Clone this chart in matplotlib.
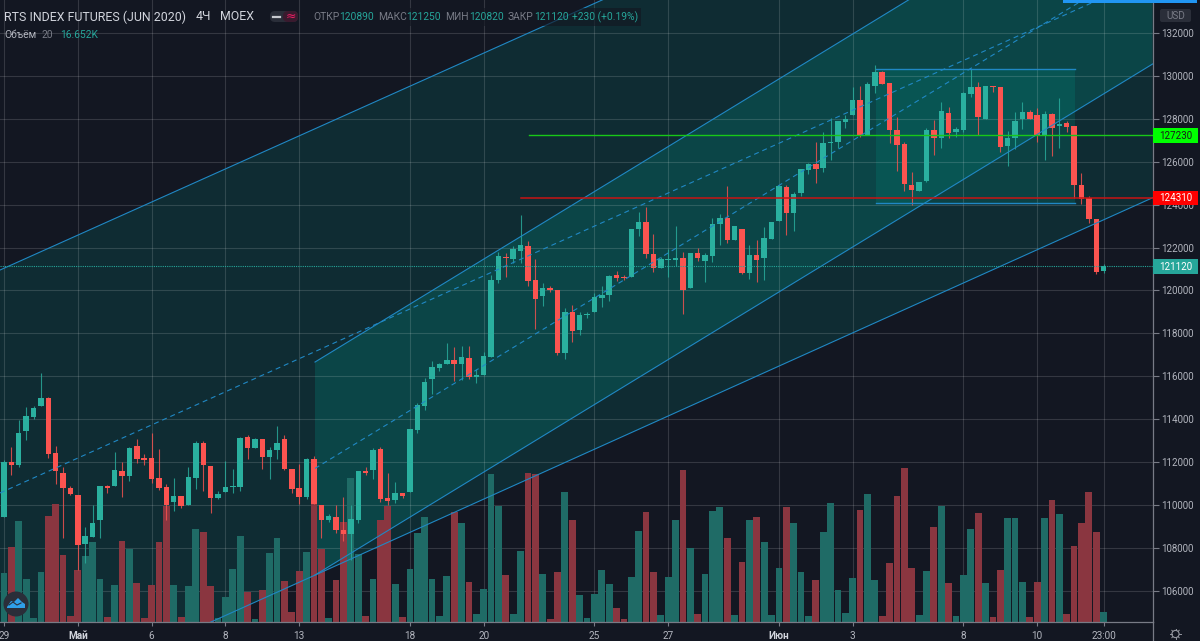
import numpy as np
import matplotlib
matplotlib.use("Agg")
import matplotlib.pyplot as plt
from matplotlib.patches import Circle, FancyBboxPatch, Polygon, Rectangle

plt.rcParams['font.family'] = ['Roboto', 'Noto Sans', 'DejaVu Sans']

opens = [109440,111980,111860,113460,114110,114630,114980,112400,111490,110800,
         110480,108160,108520,109300,110880,110880,111580,111350,112760,112190,
         112190,111250,110830,110150,110420,110000,111250,112870,111830,110310,
         110600,110820,110850,113160,112670,113060,112230,112560,113090,111690,
         110800,110370,112120,110010,109280,109450,108840,108630,109280,111580,
         111640,112590,110310,110230,110570,110600,113490,114610,115890,116400,
         116550,116740,116550,116830,115960,116070,116910,120480,121540,121480,
         121840,122070,120470,119740,120110,120020,117100,118990,118150,118850,
         118990,119630,119790,120720,120620,120640,122860,123190,121700,121060,
         121400,121420,121510,120110,121740,121390,121600,123100,123380,122350,
         122850,120810,121670,121500,122400,123220,124820,123620,124520,125630,
         125910,125710,126870,126900,127840,128180,128860,127260,129530,130200,
         129650,127480,126820,124900,124650,125080,127480,127120,128270,127370,
         127480,129170,129470,127990,129540,129470,126720,127090,127990,128320,
         128180,127240,128210,127660,127820,127660,124930,124290,123330,120890]
highs = [112090,112680,113960,114580,114610,116130,115050,112760,111780,110880,
         110480,108980,110000,110880,110930,112480,112020,112720,113060,112370,
         113340,112590,110970,111240,110420,111780,112990,112980,111830,110650,
         112050,111690,113180,113260,113100,113060,112680,113680,113260,111690,
         111910,112200,112280,110010,109580,110010,110350,110000,111580,111750,
         112640,112680,111470,111080,110570,113540,114740,115900,116720,116600,
         117560,117380,117410,117410,116320,117140,120720,121810,121760,122090,
         123530,122320,121450,120330,120200,120020,119160,119300,119010,119010,
         119860,120200,120720,120920,120720,122850,123670,123900,122610,121570,
         121920,123000,121810,121740,121960,121760,123360,123560,124870,123000,
         122850,122120,122350,122970,123200,124910,124910,124600,125660,125960,
         126920,127400,128020,127900,128180,129470,129530,129730,130510,130240,
         129650,128100,126920,125520,125040,127560,127940,128800,128560,127600,
         129240,130310,129720,129540,129540,129470,127430,128320,128800,128410,
         128520,128380,128280,128980,127910,127660,125490,124420,123330,121250]
lows = [109440,111390,111780,113020,114020,114630,112200,110970,108440,110460,
        106960,107280,108520,108440,110540,110880,110350,111130,111940,111840,
        111040,110690,109300,109730,109840,110000,110720,110660,109610,110290,
        110590,110540,110660,112140,112650,111660,111210,112140,111640,110540,
        110040,110260,110040,108470,109220,108700,108330,107430,109140,111390,
        111210,110150,109980,110100,110320,110600,113340,114420,115170,116230,
        116550,115780,115820,115890,115700,116070,116910,120330,120640,121290,
        121290,120200,118180,119270,119930,116990,116790,117580,117920,118710,
        118980,119240,119520,120450,120480,120640,122540,121510,120870,121040,
        120610,121140,118900,120100,121370,120390,121320,122100,122220,122330,
        120780,120530,120410,120480,122380,123220,122580,122790,124400,125430,
        125020,125540,126080,126650,127570,128180,127140,127250,129220,129620,
        126860,125580,124650,123960,124630,125070,126310,126620,127120,127140,
        127400,129000,127240,127980,129260,126440,125800,126590,127510,127980,
        126930,126080,126260,126620,127400,124290,124030,123130,120750,120820]
closes = [111980,111880,113340,114140,114520,114980,112390,111580,110790,110520,
          108130,108530,109140,110880,110800,111610,111350,112640,112150,112110,
          111210,110790,110010,110420,109960,111280,112900,111860,110310,110510,
          110850,110880,113100,112670,113060,112230,112560,112870,111660,110740,
          110370,112120,110040,109300,109500,108810,108640,109360,111580,111470,
          112560,110280,110200,110560,110410,113540,114660,115740,116440,116550,
          116740,116550,116880,115950,116040,116940,120480,121590,121500,121930,
          122100,120440,119600,120110,120020,117080,118980,118120,118870,118900,
          119680,119790,120670,120580,120560,122850,123190,121700,121060,121480,
          121450,121510,120000,121740,121530,121640,123080,123380,122350,123000,
          120800,121670,121420,122460,123200,124870,123620,124490,125660,125880,
          125660,126890,126930,127880,128010,128880,127260,129620,130200,129640,
          127480,126790,124960,124680,125040,127490,127120,128350,127320,127520,
          129220,129500,128100,129540,129480,126690,127100,127910,128320,127990,
          127240,128210,127560,127760,127620,124910,124240,123330,120870,121120]
# volume in thousands
volumes = [83.8,129.2,174.5,73.5,7.5,86.7,182.5,203.8,115.4,10.3,
           89.0,113.7,138.3,73.5,8.6,63.7,139.5,125.7,67.2,7.5,
           63.7,137.2,200.3,63.7,8.6,62.0,159.6,154.4,62.0,7.5,
           43.0,90.7,147.5,51.1,5.7,55.1,118.8,144.1,70.6,17.8,
           87.8,120.5,206.1,125.7,6.9,71.8,171.6,247.4,116.5,10.9,
           74.0,175.1,199.2,65.4,8.0,90.7,153.3,181.4,74.6,10.9,
           78.6,189.4,170.5,68.9,13.8,56.3,255.4,199.2,80.4,13.8,
           122.3,257.2,254.9,82.1,5.7,86.1,224.4,175.1,47.1,6.9,
           47.6,89.0,64.9,23.5,4.6,76.9,156.1,189.4,86.1,12.6,
           76.9,175.1,261.2,127.4,13.8,82.1,191.1,197.5,145.2,12.6,
           103.9,176.2,181.4,137.2,12.6,93.0,197.5,170.5,86.1,10.9,
           72.9,155.6,205.5,55.1,14.9,75.8,193.4,220.4,72.9,10.9,
           101.0,217.5,265.8,93.0,12.1,87.2,163.6,199.2,67.2,9.8,
           80.9,159.6,188.3,67.2,8.0,89.0,178.5,178.5,68.9,8.0,
           68.9,178.5,209.5,185.4,13.8,130.3,170.5,224.4,154.4,16.652]

x_ticks = [0, 10, 20, 30, 40, 55, 65, 80, 90, 105, 115, 130, 140, 149]
x_labels = ['29', 'Май', '6', '8', '13', '18', '20', '25', '27', 'Июн', '3', '8', '10', '23:00']
y_ticks = list(range(106000, 134000, 2000))

# channels drawn on the chart: (bar, price) at the ends
outer_top = [(-0.54, 120950), (155.64, 145050)]
outer_mid = [(-0.54, 110555), (155.64, 134680)]
outer_low = [(-0.54, 100110), (155.64, 124320)]
inner_top = [(42.14, 116660), (155.64, 140485)]
inner_mid = [(42.14, 111700), (155.64, 135520)]
inner_low = [(42.14, 106730), (155.64, 130555)]
box_x = [118.16, 145.1]
box_price = [124060, 130300]
green_level = 127230
red_level = 124310
green_start = 71.1
red_start = 70.1
last_price = 121120

BG = '#131722'
UP = '#2ab09f'
DOWN = '#fb5450'
BLUE = '#2088c4'
TXT = '#b2b5be'

PLOT_R = 1152.6
PLOT_B = 622
x_lim = (-4 / 7.38, (PLOT_R - 4) / 7.38)
y_lim = (132000 - 46.62 * (PLOT_B - 33), 132000 + 46.62 * 33)
vol_top = PLOT_B * 1.722


def p2y(p):
    return 33 + (132000 - p) / 46.62


fig = plt.figure(figsize=(12, 6.41), dpi=100, facecolor=BG)
rect = [0, (641 - PLOT_B) / 641, PLOT_R / 1200, PLOT_B / 641]
ax_bg = fig.add_axes(rect, facecolor=BG, zorder=1)
ax_vol = fig.add_axes(rect, zorder=2)
ax = fig.add_axes(rect, zorder=3)
ax_vol.patch.set_visible(False)
ax.patch.set_visible(False)
ax_vol.axis('off')

for a in (ax_bg, ax_vol, ax):
    a.set_xlim(*x_lim)
ax_bg.set_ylim(*y_lim)
ax.set_ylim(*y_lim)
ax_vol.set_ylim(0, vol_top)

# fills and grid
teal = '#009688'
ax_bg.fill([outer_top[0][0], outer_top[1][0], outer_low[1][0], outer_low[0][0]],
           [outer_top[0][1], outer_top[1][1], outer_low[1][1], outer_low[0][1]],
           color=teal, alpha=0.17, lw=0)
ax_bg.fill([inner_top[0][0], inner_top[1][0], inner_low[1][0], inner_low[0][0]],
           [inner_top[0][1], inner_top[1][1], inner_low[1][1], inner_low[0][1]],
           color=teal, alpha=0.24, lw=0)
ax_bg.fill([box_x[0], box_x[1], box_x[1], box_x[0]],
           [box_price[0], box_price[0], box_price[1], box_price[1]],
           color=teal, alpha=0.2, lw=0)
ax_bg.set_xticks(x_ticks)
ax_bg.set_yticks(y_ticks)
ax_bg.grid(True, color='white', alpha=0.14, lw=0.8)
ax_bg.set_axisbelow(False)
ax_bg.tick_params(left=False, bottom=False, labelleft=False, labelbottom=False)
for s in ax_bg.spines.values():
    s.set_visible(False)

idx = np.arange(len(closes))
o = np.array(opens)
h = np.array(highs)
l = np.array(lows)
c = np.array(closes)
up = c >= o

# volume
vol_colors = np.where(up, '#1f6b66', '#8a3640')
ax_vol.bar(idx, volumes, width=0.92, color=vol_colors, lw=0)

# candles
colors = np.where(up, UP, DOWN)
ax.vlines(idx, l, h, colors=colors, lw=0.8, zorder=2, alpha=0.8)
ax.bar(idx, np.maximum(np.abs(c - o), 60), bottom=np.minimum(o, c), width=0.74,
       color=colors, lw=0, zorder=2.5)

# channel lines
for line in (outer_top, outer_low, inner_top, inner_low):
    ax.plot([line[0][0], line[1][0]], [line[0][1], line[1][1]], color=BLUE, lw=0.8, zorder=3)
for line in (outer_mid, inner_mid):
    ax.plot([line[0][0], line[1][0]], [line[0][1], line[1][1]], color=BLUE, lw=0.8,
            dashes=(4.5, 3.5), zorder=3)
for p in box_price:
    ax.plot(box_x, [p, p], color=BLUE, lw=1, zorder=3)
ax.plot([green_start, x_lim[1]], [green_level, green_level], color='#18c818', lw=1, zorder=4)
ax.plot([red_start, x_lim[1]], [red_level, red_level], color='#c81414', lw=1.1, zorder=4)
ax.plot(x_lim, [last_price, last_price], color='#26a69a', lw=0.8, dashes=(1, 1), zorder=3)

# axes and ticks
ax.yaxis.tick_right()
ax.set_yticks(y_ticks)
ax.set_yticklabels([str(t) for t in y_ticks])
ax.set_xticks(x_ticks)
ax.set_xticklabels(x_labels)
ax.tick_params(axis='y', colors=TXT, labelsize=7, length=4, width=0.8, pad=2.5, color='#787b86')
ax.tick_params(axis='x', colors=TXT, labelsize=7.2, length=3, width=0.8, pad=3.5, color='#787b86')
for lab, name in zip(ax.get_xticklabels(), x_labels):
    if name in ('Май', 'Июн'):
        lab.set_fontweight('bold')
        lab.set_color('#d1d4dc')
for name, s in ax.spines.items():
    s.set_visible(name in ('right', 'bottom'))
    s.set_color('#787b86')
    s.set_linewidth(0.9)

# overlay in pixel units for the interface pieces
ov = fig.add_axes([0, 0, 1, 1], zorder=10)
ov.set_xlim(0, 1200)
ov.set_ylim(641, 0)
ov.axis('off')
ov.patch.set_visible(False)

ov.plot([PLOT_R, PLOT_R], [622, 641], color='#787b86', lw=0.9)

# price tags
for p, bgc, fc in [(green_level, '#00ff00', '#1a1a1a'),
                   (red_level, '#ff0000', '#ffffff'),
                   (last_price, '#26a69a', '#ffffff')]:
    yy = p2y(p)
    ov.add_patch(Rectangle((1153, yy - 7.3), 45, 14.6, color=bgc, lw=0))
    ov.text(1175.5, yy + 0.2, str(p), color=fc, fontsize=7, ha='center', va='center')

# legend text
ov.add_patch(Rectangle((306, 8), 335, 18, color=BG, alpha=0.65, lw=0))
ov.text(4, 17, 'RTS INDEX FUTURES (JUN 2020)', color='#d1d4dc', fontsize=8.9, va='center')
ov.text(196, 17, '4Ч', color='#d1d4dc', fontsize=8.9, va='center')
ov.text(220, 17, 'MOEX', color='#d1d4dc', fontsize=8.9, va='center')
ov.add_patch(FancyBboxPatch((270, 11), 28, 11, boxstyle='round,pad=0,rounding_size=5', color='#2a2e39', lw=0))
ov.add_patch(FancyBboxPatch((283, 11), 15, 11, boxstyle='round,pad=0,rounding_size=5', color='#3a1a2e', lw=0))
ov.plot([273, 280], [17, 17], color='#c8cad0', lw=1.6)
ov.text(290.5, 16.5, '≈', color='#e91e63', fontsize=9, ha='center', va='center', fontfamily='DejaVu Sans')

ohlc = [(313, 'ОТКР', '#787b86'), (339, '120890', '#26a69a'), (378, 'МАКС', '#787b86'),
        (406, '121250', '#26a69a'), (445, 'МИН', '#787b86'), (469, '120820', '#26a69a'),
        (508, 'ЗАКР', '#787b86'), (534.5, '121120', '#26a69a'), (572, '+230 (+0.19%)', '#26a69a')]
for xx, s, col in ohlc:
    ov.text(xx, 17.5, s, color=col, fontsize=7.4, va='center')
ov.text(4, 35, 'Объём', color='#b2b5be', fontsize=7.4, va='center')
ov.text(41, 35, '20', color='#787b86', fontsize=7.4, va='center')
ov.text(60, 35, '16.652K', color='#26a69a', fontsize=7.4, va='center')

# USD button and top strip
ov.add_patch(Rectangle((1063, 0), 134, 3, color='#2196f3', lw=0))
ov.add_patch(FancyBboxPatch((1160, 9), 31, 13, boxstyle='round,pad=0,rounding_size=2', color='#2a2e39', lw=0))
ov.text(1175.5, 15.8, 'USD', color='#787b86', fontsize=7.2, ha='center', va='center')

# logo
ov.add_patch(Circle((16, 604), 12.5, color='#2a2e39', lw=0))
ov.add_patch(Polygon([(7, 607), (11, 601), (14, 602), (18, 598), (22, 602), (25, 604), (25, 608), (7, 608)],
                     color='#2f9fe8', lw=0))
ov.plot([9, 13, 17, 21], [605, 602, 605, 603], color='#2a2e39', lw=0.8)

# settings icon
ov.add_patch(Circle((1175.5, 634), 3.6, fill=False, ec='#9598a1', lw=0.8))
for ang in np.arange(0, 360, 45):
    dx, dy = np.cos(np.radians(ang)), np.sin(np.radians(ang))
    ov.plot([1175.5 + 3.8 * dx, 1175.5 + 5.2 * dx], [634 + 3.8 * dy, 634 + 5.2 * dy], color='#9598a1', lw=0.7)

fig.savefig('out.png', dpi=100, facecolor=BG)
